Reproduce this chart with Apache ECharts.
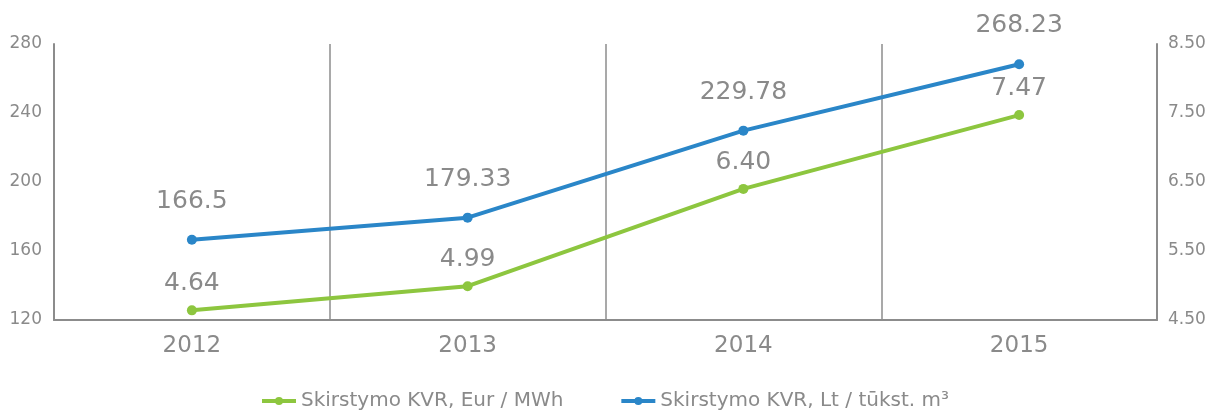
<!DOCTYPE html>
<html>
<head>
<meta charset="utf-8">
<script src="https://cdn.jsdelivr.net/npm/echarts@6/dist/echarts.min.js"></script>
<style>html,body{margin:0;padding:0;background:#fff}#c{width:1209px;height:410px}</style>
</head>
<body>
<div id="c"></div>
<script>
const categories = ['2012', '2013', '2014', '2015'];
const seriesNames = ['Skirstymo KVR, Eur / MWh', 'Skirstymo KVR, Lt / tūkst. m³'];
const eurValues = [4.64, 4.99, 6.40, 7.47];
const ltValues = [166.5, 179.33, 229.78, 268.23];
const leftTicks = { min: 120, max: 280, interval: 40 };
const rightTicks = { min: 4.5, max: 8.5, interval: 1 };

const FONT = '"DejaVu Sans"';
const TXT = '#8a8a8a';
const AX = '#8c8c8c';
const GREEN = '#8dc63f';
const BLUE = '#2a86c8';

const chart = echarts.init(document.getElementById('c'));
chart.setOption({
  animation: false,
  textStyle: { fontFamily: FONT },
  grid: { left: 54, right: 52, top: 44, bottom: 90, containLabel: false },
  legend: {
    top: 386,
    left: 'center',
    itemWidth: 34,
    itemHeight: 10,
    itemGap: 56,
    lineStyle: { width: 4 },
    textStyle: { fontFamily: FONT, fontSize: 20, color: TXT },
    data: seriesNames
  },
  xAxis: {
    type: 'category',
    data: categories,
    boundaryGap: true,
    axisLine: { show: true, lineStyle: { color: AX, width: 2 } },
    axisTick: { show: false },
    splitLine: { show: true, lineStyle: { color: AX, width: 1.5 } },
    axisLabel: { fontFamily: FONT, fontSize: 23, color: TXT, margin: 15 }
  },
  yAxis: [
    {
      type: 'value',
      min: leftTicks.min, max: leftTicks.max, interval: leftTicks.interval,
      position: 'left',
      axisLine: { show: true, lineStyle: { color: AX, width: 2 } },
      axisTick: { show: false },
      splitLine: { show: false },
      axisLabel: { fontFamily: FONT, fontSize: 17, color: TXT, margin: 12, padding: [12, 0, 0, 0] }
    },
    {
      type: 'value',
      min: rightTicks.min, max: rightTicks.max, interval: rightTicks.interval,
      position: 'right',
      axisLine: { show: true, lineStyle: { color: AX, width: 2 } },
      axisTick: { show: false },
      splitLine: { show: false },
      axisLabel: { fontFamily: FONT, fontSize: 17, color: TXT, margin: 11, padding: [12, 0, 0, 0],
        formatter: v => v.toFixed(2) }
    }
  ],
  series: [
    {
      name: seriesNames[0],
      type: 'line',
      yAxisIndex: 1,
      data: eurValues,
      symbol: 'circle',
      symbolSize: 10,
      lineStyle: { color: GREEN, width: 4 },
      itemStyle: { color: GREEN },
      label: { show: true, position: 'top', distance: 9, fontFamily: FONT, fontSize: 25, color: TXT,
        formatter: p => p.value.toFixed(2) }
    },
    {
      name: seriesNames[1],
      type: 'line',
      yAxisIndex: 0,
      data: ltValues,
      symbol: 'circle',
      symbolSize: 10,
      lineStyle: { color: BLUE, width: 4 },
      itemStyle: { color: BLUE },
      label: { show: true, position: 'top', distance: 21, fontFamily: FONT, fontSize: 25, color: TXT }
    }
  ]
});
</script>
</body>
</html>
